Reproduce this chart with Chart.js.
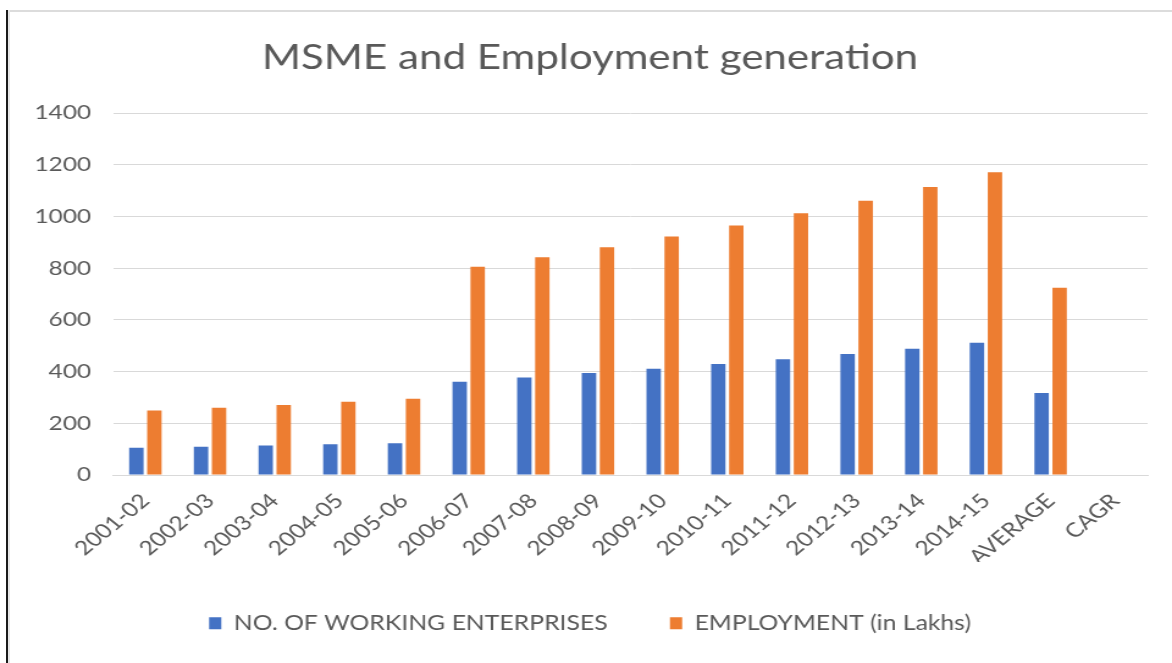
<!DOCTYPE html>
<html>
<head>
<meta charset="utf-8">
<script src="https://cdn.jsdelivr.net/npm/chart.js@4"></script>
<style>
    html, body { margin: 0; padding: 0; background: #fff; }
    #wrap { position: relative; width: 1172px; height: 663px; overflow: hidden; }
    #msmeChart { position: absolute; left: 0; top: 0; }
    .edge-left { position: absolute; left: 6px; top: 10px; width: 2px; height: 653px; background: #1a1a1a; }
    .edge-left2 { position: absolute; left: 8px; top: 10px; width: 2px; height: 653px; background: #e6e6e6; }
    .edge-top { position: absolute; left: 8px; top: 10px; width: 1164px; height: 2px; background: #dcdcdc; }
</style>
</head>
<body>
<div id="wrap">
    <!-- the source picture is stretched sideways, so the canvas is drawn narrower and widened by css -->
    <canvas id="msmeChart" width="960" height="663" style="width:1172px;height:663px;"></canvas>
    <div class="edge-top"></div>
    <div class="edge-left2"></div>
    <div class="edge-left"></div>
</div>
<script>
const years = ['2001-02', '2002-03', '2003-04', '2004-05', '2005-06', '2006-07', '2007-08',
    '2008-09', '2009-10', '2010-11', '2011-12', '2012-13', '2013-14', '2014-15', 'AVERAGE', 'CAGR'];
const enterprises = [105, 109, 114, 119, 123, 361, 377, 394, 411, 429, 448, 468, 488, 511, 317, 0];
const employment = [249, 260, 271, 283, 295, 805, 842, 881, 922, 965, 1012, 1061, 1114, 1171, 724, 0];
const yTicks = [0, 200, 400, 600, 800, 1000, 1200, 1400];

const textColor = '#595959';
const fontFamily = 'Lato, "Open Sans", sans-serif';

document.addEventListener('DOMContentLoaded', function () {
    const canvas = document.getElementById('msmeChart');

    if (!canvas || typeof Chart === 'undefined') {
        return;
    }

    new Chart(canvas, {
        type: 'bar',
        data: {
            labels: years,
            datasets: [{
                label: 'NO. OF WORKING ENTERPRISES',
                data: enterprises,
                backgroundColor: '#4472C4',
                borderWidth: 0
            }, {
                label: 'EMPLOYMENT (in Lakhs)',
                data: employment,
                backgroundColor: '#ED7D31',
                borderWidth: 0
            }]
        },
        options: {
            responsive: false,
            animation: false,
            devicePixelRatio: 1,
            categoryPercentage: 0.557,
            barPercentage: 0.8,
            layout: {
                padding: { top: 20, right: 20, bottom: 19.7, left: 26.6 }
            },
            plugins: {
                title: {
                    display: true,
                    text: 'MSME and Employment generation',
                    color: textColor,
                    font: { family: fontFamily, size: 34.5, weight: 'normal' },
                    padding: { top: 17, bottom: 34.6 }
                },
                legend: {
                    position: 'bottom',
                    labels: {
                        color: textColor,
                        font: { family: fontFamily, size: 20.3 },
                        boxWidth: 10,
                        boxHeight: 12,
                        padding: 51
                    }
                },
                tooltip: { enabled: false }
            },
            scales: {
                x: {
                    grid: { display: false },
                    border: { color: '#d9d9d9' },
                    ticks: {
                        color: textColor,
                        font: { family: fontFamily, size: 20 },
                        maxRotation: 45,
                        minRotation: 45,
                        padding: 6
                    },
                    afterFit: function (scale) {
                        scale.height = 87;
                    }
                },
                y: {
                    min: 0,
                    max: 1400,
                    afterBuildTicks: function (scale) {
                        scale.ticks = yTicks.map(function (v) { return { value: v }; });
                    },
                    afterFit: function (scale) {
                        scale.width = 66;
                    },
                    grid: { color: '#d9d9d9', drawTicks: false },
                    border: { display: false },
                    ticks: {
                        color: textColor,
                        font: { family: fontFamily, size: 20 },
                        padding: 18,
                        callback: function (value) {
                            return String(value);
                        }
                    }
                }
            }
        }
    });
});
</script>
</body>
</html>
